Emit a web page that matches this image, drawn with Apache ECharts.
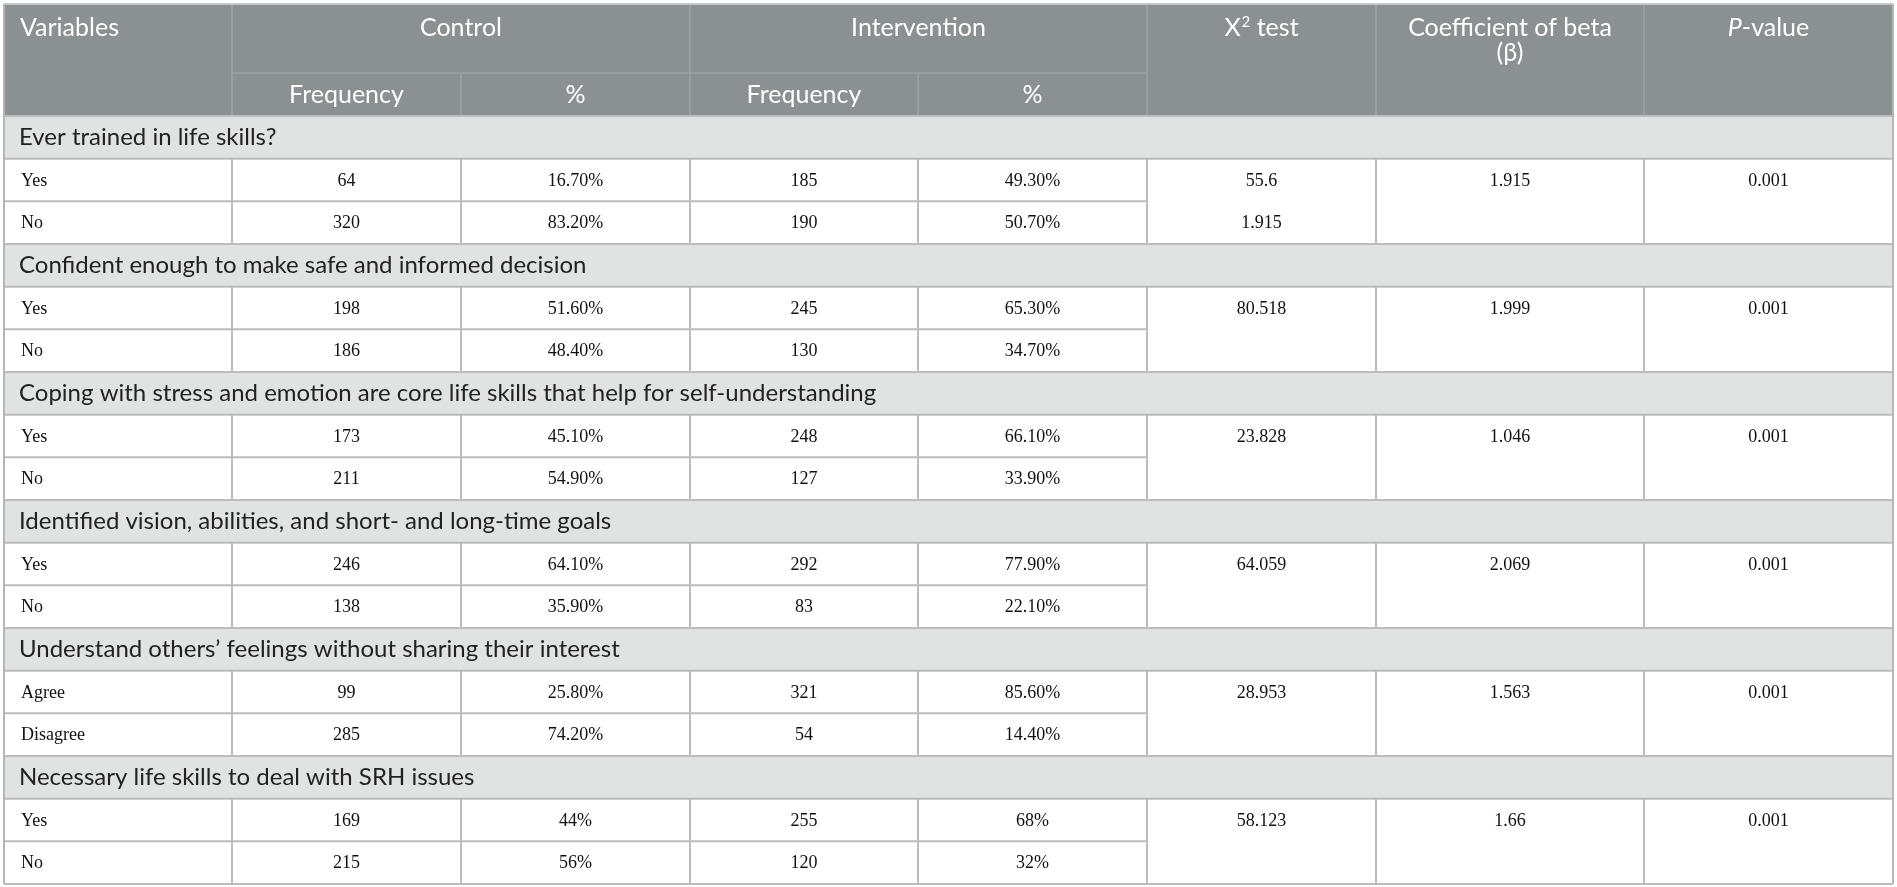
<!DOCTYPE html>
<html>
<head>
<meta charset="utf-8">
<script src="https://cdn.jsdelivr.net/npm/echarts@6/dist/echarts.min.js"></script>
<style>
html,body{margin:0;padding:0;background:#fff;}
#main{width:1897px;height:887px;}
</style>
</head>
<body>
<div id="main"></div>
<script>
// ---------- data ----------
const sections = [
  "Ever trained in life skills?",
  "Confident enough to make safe and informed decision",
  "Coping with stress and emotion are core life skills that help for self-understanding",
  "Identified vision, abilities, and short- and long-time goals",
  "Understand others\u2019 feelings without sharing their interest",
  "Necessary life skills to deal with SRH issues"
];
const rowLabels = [
  ["Yes", "No"], ["Yes", "No"], ["Yes", "No"], ["Yes", "No"], ["Agree", "Disagree"], ["Yes", "No"]
];
const controlFreq = [[64, 320], [198, 186], [173, 211], [246, 138], [99, 285], [169, 215]];
const controlPct = [["16.70%", "83.20%"], ["51.60%", "48.40%"], ["45.10%", "54.90%"], ["64.10%", "35.90%"], ["25.80%", "74.20%"], ["44%", "56%"]];
const interventionFreq = [[185, 190], [245, 130], [248, 127], [292, 83], [321, 54], [255, 120]];
const interventionPct = [["49.30%", "50.70%"], ["65.30%", "34.70%"], ["66.10%", "33.90%"], ["77.90%", "22.10%"], ["85.60%", "14.40%"], ["68%", "32%"]];
const chiSquare = ["55.6", "80.518", "23.828", "64.059", "28.953", "58.123"];
const chiSquareSecond = ["1.915", "", "", "", "", ""];
const betaCoef = ["1.915", "1.999", "1.046", "2.069", "1.563", "1.66"];
const pValues = ["0.001", "0.001", "0.001", "0.001", "0.001", "0.001"];
const headerTop = ["Variables", "Control", "Intervention", "{t|X}{sup|2}{t| test}", "Coefficient of beta\n(\u03b2)", "{i|P}{t|-value}"];
const headerSub = ["Frequency", "%", "Frequency", "%"];

// ---------- layout ----------
const W = 1897, H = 887;
const colEdges = [4, 232, 461, 690, 918, 1147, 1376, 1644, 1893];
const headTop = 4, headMid = 73, headBot = 116, tableBot = 884;
const nRows = sections.length * 3;
const rowH = (tableBot - headBot) / nRows;
const rowTop = r => headBot + r * rowH;

const C_HEAD = '#8b9093', C_HEADLINE = '#a4a8aa', C_SEC = '#e1e3e2', C_LINE = '#bcbcbc';
const F_HEAD = '25px Lato', F_SEC = '24px Lato', F_DATA = '18px "Liberation Serif"';

// cells: fills + texts
const cells = [];
function cell(x0, y0, x1, y1, fill, texts) { cells.push({x0, y0, x1, y1, fill, texts: texts || []}); }
const colMid = i => (colEdges[i] + colEdges[i + 1]) / 2;

// header background
cell(colEdges[0], headTop, colEdges[8], headBot, C_HEAD, []);
// header texts
const headTexts = [];
headTexts.push({x: 20, y: 28, text: headerTop[0], align: 'left'});
headTexts.push({x: (colEdges[1] + colEdges[3]) / 2, y: 28, text: headerTop[1], align: 'center'});
headTexts.push({x: (colEdges[3] + colEdges[5]) / 2, y: 28, text: headerTop[2], align: 'center'});
headTexts.push({x: colMid(5), y: 28, text: headerTop[3], align: 'center', rich: true});
headTexts.push({x: colMid(6), y: 40.5, text: headerTop[4], align: 'center', lh: 25});
headTexts.push({x: colMid(7), y: 28, text: headerTop[5], align: 'center', rich: true});
for (let i = 0; i < 4; i++) headTexts.push({x: colMid(i + 1), y: (headMid + headBot) / 2, text: headerSub[i], align: 'center'});
cells[0].texts = headTexts.map(t => Object.assign({font: F_HEAD, color: '#ffffff'}, t));

// body
for (let b = 0; b < sections.length; b++) {
  const rs = b * 3;
  cell(colEdges[0], rowTop(rs), colEdges[8], rowTop(rs + 1), C_SEC,
    [{x: 19, y: (rowTop(rs) + rowTop(rs + 1)) / 2, text: sections[b], align: 'left', font: F_SEC, color: '#222'}]);
  for (let k = 0; k < 2; k++) {
    const r = rs + 1 + k;
    const yc = (rowTop(r) + rowTop(r + 1)) / 2 + 1;
    const t = [];
    t.push({x: 21, y: yc, text: rowLabels[b][k], align: 'left'});
    t.push({x: colMid(1), y: yc, text: String(controlFreq[b][k]), align: 'center'});
    t.push({x: colMid(2), y: yc, text: controlPct[b][k], align: 'center'});
    t.push({x: colMid(3), y: yc, text: String(interventionFreq[b][k]), align: 'center'});
    t.push({x: colMid(4), y: yc, text: interventionPct[b][k], align: 'center'});
    if (k === 0) {
      t.push({x: colMid(5), y: yc, text: chiSquare[b], align: 'center'});
      t.push({x: colMid(6), y: yc, text: betaCoef[b], align: 'center'});
      t.push({x: colMid(7), y: yc, text: pValues[b], align: 'center'});
    } else if (chiSquareSecond[b]) {
      t.push({x: colMid(5), y: yc, text: chiSquareSecond[b], align: 'center'});
    }
    cell(colEdges[0], rowTop(r), colEdges[8], rowTop(r + 1), '#ffffff',
      t.map(o => Object.assign({font: F_DATA, color: '#111'}, o)));
  }
}

// lines
const lines = [];
function line(x0, y0, x1, y1, color, w) { lines.push({x0, y0, x1, y1, color, w}); }
// header internal lines
[1, 3, 5, 6, 7].forEach(i => line(colEdges[i], headTop, colEdges[i], headBot, C_HEADLINE, 1.2));
[2, 4].forEach(i => line(colEdges[i], headMid, colEdges[i], headBot, C_HEADLINE, 1.2));
line(colEdges[1], headMid, colEdges[5], headMid, C_HEADLINE, 1.2);
// body lines
for (let b = 0; b < sections.length; b++) {
  const rs = b * 3;
  line(colEdges[0], rowTop(rs), colEdges[8], rowTop(rs), C_LINE, 2);
  line(colEdges[0], rowTop(rs + 1), colEdges[8], rowTop(rs + 1), C_LINE, 2);
  line(colEdges[0], rowTop(rs + 2), colEdges[5], rowTop(rs + 2), C_LINE, 2);
  for (let i = 1; i < 8; i++) line(colEdges[i], rowTop(rs + 1), colEdges[i], rowTop(rs + 3), C_LINE, 2);
}
// outer border
line(colEdges[0], headTop, colEdges[8], headTop, '#c4c6c6', 2);
line(colEdges[0], tableBot, colEdges[8], tableBot, C_LINE, 2);
line(colEdges[0], headTop, colEdges[0], tableBot, '#b5b7b7', 2);
line(colEdges[8], headTop, colEdges[8], tableBot, '#b5b7b7', 2);

function textEl(t, api) {
  const p = api.coord([t.x, t.y]);
  const style = {
    x: p[0], y: p[1], align: t.align, verticalAlign: 'middle',
    font: t.font, fill: t.color, text: t.text
  };
  if (t.lh) style.lineHeight = t.lh;
  if (t.rich) {
    style.rich = {
      t: {font: t.font, fill: t.color},
      i: {font: 'italic ' + t.font, fill: t.color},
      sup: {font: '15px Lato', fill: t.color, verticalAlign: 'top', padding: [0, 0, 11, 1]}
    };
  }
  return {type: 'text', style, silent: true};
}

const option = {
  animation: false,
  backgroundColor: '#ffffff',
  grid: {left: 0, right: 0, top: 0, bottom: 0},
  xAxis: {type: 'value', min: 0, max: W, show: false},
  yAxis: {type: 'value', min: 0, max: H, inverse: true, show: false},
  series: [
    {
      type: 'custom',
      clip: false,
      data: cells.map(c => [c.x0, c.y0]),
      renderItem: function (params, api) {
        const c = cells[params.dataIndex];
        const p0 = api.coord([c.x0, c.y0]), p1 = api.coord([c.x1, c.y1]);
        const children = [{
          type: 'rect', silent: true,
          shape: {x: p0[0], y: p0[1], width: p1[0] - p0[0], height: p1[1] - p0[1]},
          style: {fill: c.fill}
        }];
        c.texts.forEach(t => children.push(textEl(t, api)));
        return {type: 'group', children};
      }
    },
    {
      type: 'custom',
      clip: false,
      z: 5,
      data: lines.map(l => [l.x0, l.y0]),
      renderItem: function (params, api) {
        const l = lines[params.dataIndex];
        const p0 = api.coord([l.x0, l.y0]), p1 = api.coord([l.x1, l.y1]);
        return {
          type: 'line', silent: true,
          shape: {x1: p0[0], y1: p0[1], x2: p1[0], y2: p1[1]},
          style: {stroke: l.color, lineWidth: l.w}
        };
      }
    }
  ]
};
const chart = echarts.init(document.getElementById('main'), null, {renderer: 'canvas'});
chart.setOption(option);
</script>
</body>
</html>
